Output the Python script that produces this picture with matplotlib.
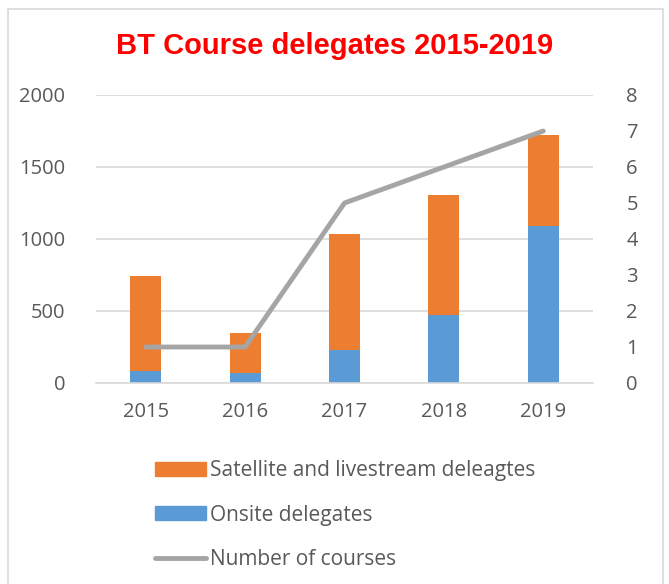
import matplotlib.pyplot as plt
from matplotlib.patches import Rectangle, Patch
from matplotlib.lines import Line2D

years = ['2015', '2016', '2017', '2018', '2019']
onsite = [80, 72, 227, 475, 1093]
satellite = [665, 278, 805, 833, 632]
courses = [1, 1, 5, 6, 7]

orange = '#ED7D31'
blue = '#5B9BD5'
grey_line = '#A5A5A5'
text_col = '#595959'
font = ['Open Sans', 'DejaVu Sans']

plt.rcParams['font.family'] = font

fig = plt.figure(figsize=(6.69, 5.84), dpi=100)
# chart border
fig.patches.append(Rectangle((8 / 669, -0.01), 655 / 669, 1 - 9 / 584 + 0.01,
                             transform=fig.transFigure, fill=False,
                             edgecolor='#D9D9D9', linewidth=1.2))

ax = fig.add_axes([96 / 669, 1 - 383 / 584, 497 / 669, 288 / 584])
x = list(range(len(years)))
ax.bar(x, onsite, width=0.31, color=blue, zorder=2)
ax.bar(x, satellite, width=0.31, bottom=onsite, color=orange, zorder=2)
ax.set_ylim(0, 2000)
ax.set_xlim(-0.5, 4.5)
ax.set_yticks([0, 500, 1000, 1500, 2000])
ax.set_xticks(x)
ax.set_xticklabels(years)
ax.yaxis.grid(True, color='#D9D9D9', linewidth=1.2, zorder=0)
ax.set_axisbelow(True)
for s in ['top', 'right', 'left']:
    ax.spines[s].set_visible(False)
ax.spines['bottom'].set_color('#D9D9D9')
ax.spines['bottom'].set_linewidth(1.2)
ax.tick_params(axis='both', length=0, labelsize=14.5, colors=text_col)
ax.tick_params(axis='y', pad=22)
ax.tick_params(axis='x', pad=14)

ax2 = ax.twinx()
ax2.plot(x, courses, color=grey_line, linewidth=3.5, solid_capstyle='round',
         solid_joinstyle='round', zorder=3)
ax2.set_ylim(0, 8)
ax2.set_yticks(range(0, 9))
for s in ax2.spines.values():
    s.set_visible(False)
ax2.tick_params(axis='y', length=0, labelsize=14.5, colors=text_col, pad=24)

fig.text(0.5, 1 - 46 / 584, 'BT Course delegates 2015-2019', ha='center', va='center',
         fontsize=21, fontweight='bold', color='#FF0000', family='Liberation Sans')

handles = [Patch(color=orange), Patch(color=blue),
           Line2D([0], [0], color=grey_line, linewidth=3.5, solid_capstyle='round')]
labels = ['Satellite and livestream deleagtes', 'Onsite delegates', 'Number of courses']
leg = fig.legend(handles, labels, loc='upper left', bbox_to_anchor=(147 / 669, 1 - 452 / 584),
                 frameon=False, fontsize=15, labelspacing=1.12, handlelength=2.45,
                 handleheight=0.65, handletextpad=0.15, borderaxespad=0)
for t in leg.get_texts():
    t.set_color(text_col)

fig.savefig('out.png', dpi=100)
